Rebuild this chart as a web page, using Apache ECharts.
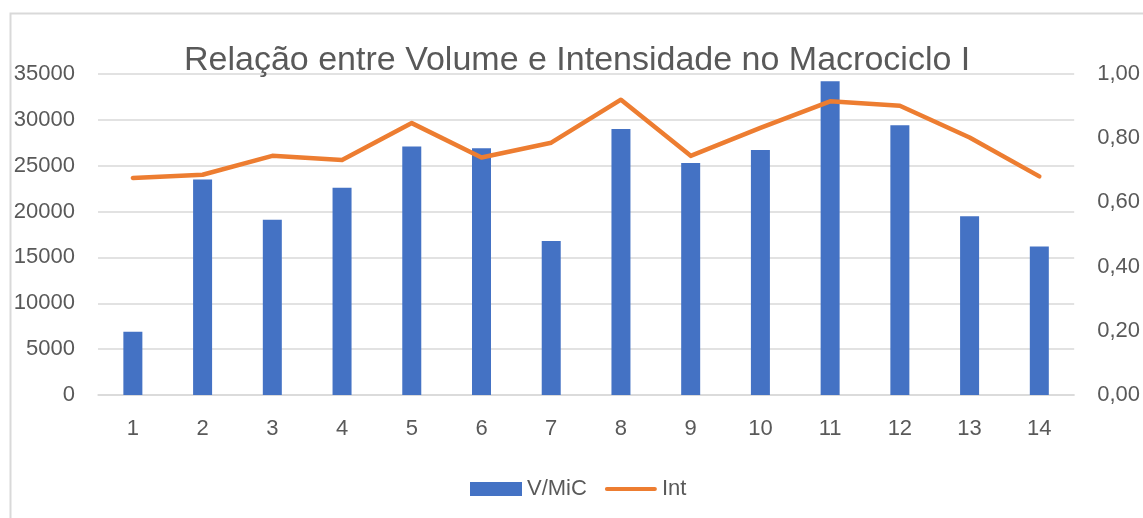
<!DOCTYPE html>
<html lang="pt">
<head>
    <meta charset="utf-8" />
    <title>Relação entre Volume e Intensidade</title>
    <script src="https://cdn.jsdelivr.net/npm/echarts@6/dist/echarts.min.js"></script>
    <style>
        html, body { margin: 0; height: 100%; background: #FFFFFF; }
        #chart { width: 1143px; height: 518px; }
    </style>
</head>
<body>
<div id="chart"></div>
<script>
// dados
var microciclos = ['1', '2', '3', '4', '5', '6', '7', '8', '9', '10', '11', '12', '13', '14']
var volume = [6900, 23500, 19100, 22600, 27100, 26900, 16800, 29000, 25300, 26700, 34200, 29400, 19500, 16200]
var intensidade = [0.676, 0.686, 0.745, 0.732, 0.847, 0.740, 0.786, 0.920, 0.745, 0.832, 0.915, 0.901, 0.802, 0.681]

var FONT = 'Liberation Sans'
var TXT = '#595959'

var chart = echarts.init(document.getElementById('chart'))
chart.setOption({
    animation: false,
    textStyle: { fontFamily: FONT },
    graphic: [{
        // moldura da área do gráfico
        type: 'rect',
        shape: { x: 10.5, y: 13.5, width: 1200, height: 600 },
        style: { fill: 'none', stroke: '#D9D9D9', lineWidth: 2 },
        silent: true
    }],
    title: {
        text: 'Relação entre Volume e Intensidade no Macrociclo I',
        left: 184,
        top: 44,
        padding: 0,
        textStyle: { fontFamily: FONT, fontSize: 34, fontWeight: 'normal', color: TXT }
    },
    legend: {
        bottom: 18,
        left: 470,
        padding: 0,
        itemGap: 18,
        itemWidth: 52,
        itemHeight: 14,
        textStyle: { fontFamily: FONT, fontSize: 22, color: TXT },
        data: [
            { name: 'V/MiC', icon: 'rect' },
            // linha grossa centrada, sem marcador
            { name: 'Int', icon: 'path://M0,0 L0.01,0 M0,14 L0.01,14 M2,5 L50,5 A2,2 0 0 1 50,9 L2,9 A2,2 0 0 1 2,5 Z' }
        ]
    },
    grid: { left: 98, right: 67, top: 74, bottom: 123 },
    xAxis: {
        type: 'category',
        data: microciclos,
        axisTick: { show: false },
        axisLine: { lineStyle: { color: '#D9D9D9', width: 1.5 } },
        axisLabel: { fontFamily: FONT, fontSize: 22, color: TXT, margin: 23 }
    },
    yAxis: [{
        type: 'value',
        min: 0,
        max: 35000,
        interval: 5000,
        axisLine: { show: false },
        axisTick: { show: false },
        splitLine: { lineStyle: { color: '#D9D9D9', width: 1.5 } },
        axisLabel: {
            fontFamily: FONT, fontSize: 22, color: TXT, margin: 23,
            formatter: function (v) { return String(v) }
        }
    }, {
        type: 'value',
        min: 0,
        max: 1,
        interval: 0.2,
        axisLine: { show: false },
        axisTick: { show: false },
        splitLine: { show: false },
        axisLabel: {
            fontFamily: FONT, fontSize: 22, color: TXT, margin: 23,
            formatter: function (v) { return v.toFixed(2).replace('.', ',') }
        }
    }],
    series: [{
        name: 'V/MiC',
        type: 'bar',
        data: volume,
        barWidth: 19,
        itemStyle: { color: '#4472C4' }
    }, {
        name: 'Int',
        type: 'line',
        yAxisIndex: 1,
        data: intensidade,
        symbol: 'none',
        lineStyle: { color: '#ED7D31', width: 4.5, cap: 'round', join: 'round' },
        itemStyle: { color: '#ED7D31' }
    }]
})
</script>
</body>
</html>
